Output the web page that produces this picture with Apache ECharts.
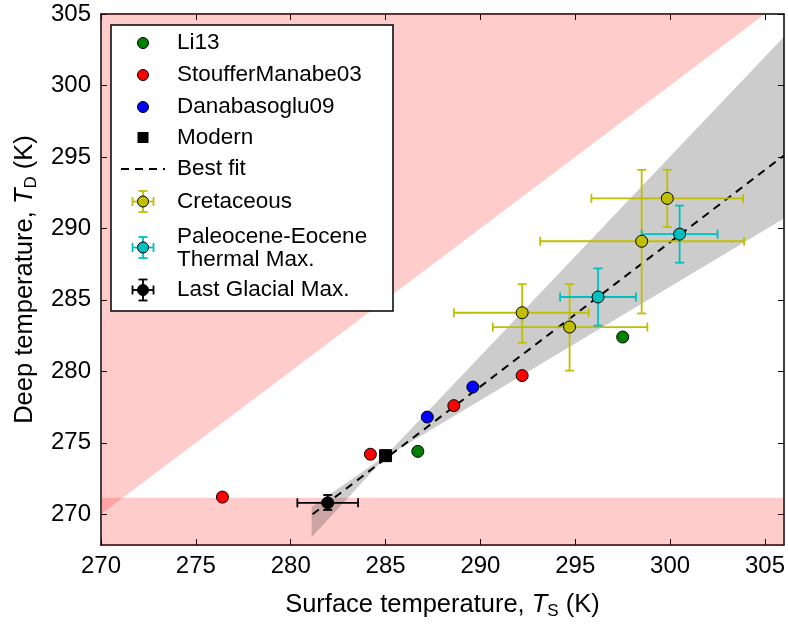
<!DOCTYPE html>
<html>
<head>
<meta charset="utf-8">
<script src="https://cdn.jsdelivr.net/npm/echarts@6/dist/echarts.min.js"></script>
<style>
html,body{margin:0;padding:0;background:#fff}
#chart{width:788px;height:626px}
</style>
</head>
<body>
<div id="chart"></div>
<script>
// axis extents and tick labels
const xRange=[270,306]
const yRange=[267.85,305]
const xTicks=[270,275,280,285,290,295,300,305]
const yTicks=[270,275,280,285,290,295,300,305]
const freezeK=271.15

// model points [Ts, Td]
const li13=[[286.7,274.4],[297.5,282.4]]
const stoufferManabe03=[[276.4,271.2],[284.2,274.2],[288.6,277.6],[292.2,279.7]]
const danabasoglu09=[[287.2,276.8],[289.6,278.9]]
const modern=[[285.0,274.1]]

// fit line and its shaded band
const bestFit=[[281.15,270.0],[306,295.1]]
const coneUpper=[[281.1,270.5],[285.0,274.1],[306,303.4]]
const coneLower=[[281.1,268.4],[285.0,274.0],[306,290.7]]

// proxies: [Ts, Td, TsLow, TsHigh, TdLow, TdHigh]
const cretaceous=[
    [292.2,284.1,288.6,295.7,282.0,286.1],
    [294.7,283.1,290.65,298.8,280.05,286.1],
    [298.5,289.1,293.15,303.9,284.05,294.1],
    [299.85,292.1,295.85,303.85,290.1,294.1]
]
const petm=[
    [296.2,285.2,294.2,298.2,283.2,287.2],
    [300.5,289.6,298.5,302.5,287.6,291.6]
]
const lgm=[[281.95,270.8,280.35,283.55,270.3,271.35]]

const YELLOW='#bfbf00'
const CYAN='#00bfbf'
const FONT='Liberation Sans'

window.addEventListener('DOMContentLoaded',()=>{
    const chart=echarts.init(document.getElementById('chart'))

    function polygonItem(points,fill){
        return function(params,api){
            return {
                type:'polygon',
                shape:{points:points.map(p=>api.coord(p))},
                style:{fill:fill}
            }
        }
    }

    function errorBarItem(color){
        return function(params,api){
            const x=api.value(0),y=api.value(1)
            const c=api.coord([x,y])
            const xl=api.coord([api.value(2),y])[0]
            const xh=api.coord([api.value(3),y])[0]
            const yl=api.coord([x,api.value(4)])[1]
            const yh=api.coord([x,api.value(5)])[1]
            const cap=4.5
            const st={stroke:color,lineWidth:1.8}
            return {type:'group',children:[
                {type:'line',shape:{x1:xl,y1:c[1],x2:xh,y2:c[1]},style:st},
                {type:'line',shape:{x1:xl,y1:c[1]-cap,x2:xl,y2:c[1]+cap},style:st},
                {type:'line',shape:{x1:xh,y1:c[1]-cap,x2:xh,y2:c[1]+cap},style:st},
                {type:'line',shape:{x1:c[0],y1:yl,x2:c[0],y2:yh},style:st},
                {type:'line',shape:{x1:c[0]-cap,y1:yl,x2:c[0]+cap,y2:yl},style:st},
                {type:'line',shape:{x1:c[0]-cap,y1:yh,x2:c[0]+cap,y2:yh},style:st}
            ]}
        }
    }

    const pinkTop=[[xRange[0],xRange[0]],[yRange[1],yRange[1]],[xRange[0],yRange[1]]]
    const pinkBand=[[xRange[0],yRange[0]],[xRange[1],yRange[0]],[xRange[1],freezeK],[xRange[0],freezeK]]
    const cone=coneUpper.concat(coneLower.slice().reverse())

    function scatter(name,data,color,symbol){
        return {
            name:name,
            type:'scatter',
            data:data,
            symbol:symbol||'circle',
            symbolSize:12,
            z:5,
            itemStyle:{color:color,borderColor:'#000',borderWidth:1,opacity:1}
        }
    }

    function errorBars(name,data,color){
        return {
            name:name+' err',
            type:'custom',
            renderItem:errorBarItem(color),
            data:data,
            encode:{x:0,y:1},
            z:4
        }
    }

    function mathName(main,sub){
        return '{n|'+main+'}{i|T}{s|'+sub+'}{n| (K)}'
    }
    const nameRich={
        n:{fontSize:25.5,fontFamily:FONT,color:'#000',lineHeight:32},
        i:{fontSize:25.5,fontFamily:FONT,fontStyle:'italic',color:'#000',lineHeight:32},
        s:{fontSize:17,fontFamily:FONT,color:'#000',lineHeight:32,padding:[13,0,0,0]}
    }

    const baseAxis={
        type:'value',
        axisLine:{show:true,onZero:false,lineStyle:{color:'#000',width:1.5}},
        axisTick:{show:true,inside:true,length:6,lineStyle:{color:'#000',width:1}},
        splitLine:{show:false}
    }

    // legend rows
    const lx=143,tx=177,LZ=100
    const legendItems=[]
    function add(el){el.z=LZ;legendItems.push(el)}
    function dot(y,color){
        add({type:'circle',shape:{cx:lx,cy:y,r:5.5},style:{fill:color,stroke:'#000',lineWidth:1}})
    }
    function label(y,text){
        add({type:'text',x:tx,y:y,style:{text:text,font:'22.5px "'+FONT+'"',fill:'#000',verticalAlign:'middle'}})
    }
    function errIcon(y,color){
        const st={stroke:color,lineWidth:1.8}
        const w=10.5,cap=4.5
        add({type:'line',shape:{x1:lx-w,y1:y,x2:lx+w,y2:y},style:st})
        add({type:'line',shape:{x1:lx-w,y1:y-cap,x2:lx-w,y2:y+cap},style:st})
        add({type:'line',shape:{x1:lx+w,y1:y-cap,x2:lx+w,y2:y+cap},style:st})
        add({type:'line',shape:{x1:lx,y1:y-w,x2:lx,y2:y+w},style:st})
        add({type:'line',shape:{x1:lx-cap,y1:y-w,x2:lx+cap,y2:y-w},style:st})
        add({type:'line',shape:{x1:lx-cap,y1:y+w,x2:lx+cap,y2:y+w},style:st})
        dot(y,color)
    }
    add({type:'rect',shape:{x:111,y:25,width:282,height:286},style:{fill:'#fff',stroke:'#000',lineWidth:1.5}})
    dot(43,'#008000');label(43,'Li13')
    dot(75,'#ff0000');label(75,'StoufferManabe03')
    dot(107,'#0000ff');label(107,'Danabasoglu09')
    add({type:'rect',shape:{x:lx-5.5,y:137.5-5.5,width:11,height:11},style:{fill:'#000'}})
    label(137.5,'Modern')
    add({type:'line',shape:{x1:lx-22,y1:169,x2:lx+22,y2:169},style:{stroke:'#000',lineWidth:2,lineDash:[8,6]}})
    label(169,'Best fit')
    errIcon(201.5,YELLOW);label(201.5,'Cretaceous')
    errIcon(247.5,CYAN);label(236.5,'Paleocene-Eocene');label(259.5,'Thermal Max.')
    errIcon(290,'#000');label(290,'Last Glacial Max.')

    const option={
        animation:false,
        textStyle:{fontFamily:FONT},
        grid:{left:101,top:14,width:685,height:531},
        xAxis:[
            Object.assign({},baseAxis,{
                min:xRange[0],max:xRange[1],position:'bottom',
                axisTick:Object.assign({},baseAxis.axisTick,{customValues:xTicks}),
                axisLabel:{customValues:xTicks,fontSize:24,color:'#000',margin:9,fontFamily:FONT},
                name:mathName('Surface temperature, ','S'),
                nameLocation:'middle',nameGap:44,
                nameTextStyle:{rich:nameRich}
            }),
            Object.assign({},baseAxis,{
                min:xRange[0],max:xRange[1],position:'top',
                axisTick:Object.assign({},baseAxis.axisTick,{customValues:xTicks}),
                axisLabel:{show:false}
            })
        ],
        yAxis:[
            Object.assign({},baseAxis,{
                min:yRange[0],max:yRange[1],position:'left',
                axisTick:Object.assign({},baseAxis.axisTick,{customValues:yTicks}),
                axisLabel:{customValues:yTicks,fontSize:24,color:'#000',margin:10,fontFamily:FONT},
                name:mathName('Deep temperature, ','D'),
                nameLocation:'middle',nameGap:58,
                nameTextStyle:{rich:nameRich}
            }),
            Object.assign({},baseAxis,{
                min:yRange[0],max:yRange[1],position:'right',
                axisTick:Object.assign({},baseAxis.axisTick,{customValues:yTicks}),
                axisLabel:{show:false}
            })
        ],
        series:[
            {type:'custom',name:'pinkTop',renderItem:polygonItem(pinkTop,'rgba(255,0,0,0.2)'),data:[[xRange[0],yRange[1]]],z:1,silent:true},
            {type:'custom',name:'pinkBand',renderItem:polygonItem(pinkBand,'rgba(255,0,0,0.2)'),data:[[xRange[0],yRange[0]]],z:1,silent:true},
            {type:'custom',name:'cone',renderItem:polygonItem(cone,'rgba(0,0,0,0.2)'),data:[bestFit[0]],z:2,silent:true},
            {
                name:'Best fit',type:'line',data:bestFit,symbol:'none',z:3,
                lineStyle:{color:'#000',width:2,type:[8,6]}
            },
            errorBars('Cretaceous',cretaceous,YELLOW),
            errorBars('PETM',petm,CYAN),
            errorBars('LGM',lgm,'#000'),
            scatter('Li13',li13,'#008000'),
            scatter('StoufferManabe03',stoufferManabe03,'#ff0000'),
            scatter('Danabasoglu09',danabasoglu09,'#0000ff'),
            scatter('Modern',modern,'#000','rect'),
            scatter('Cretaceous',cretaceous.map(d=>[d[0],d[1]]),YELLOW),
            scatter('Paleocene-Eocene Thermal Max.',petm.map(d=>[d[0],d[1]]),CYAN),
            scatter('Last Glacial Max.',lgm.map(d=>[d[0],d[1]]),'#000')
        ],
        graphic:legendItems
    }

    chart.setOption(option)
    window.addEventListener('resize',()=>chart.resize())
})
</script>
</body>
</html>
